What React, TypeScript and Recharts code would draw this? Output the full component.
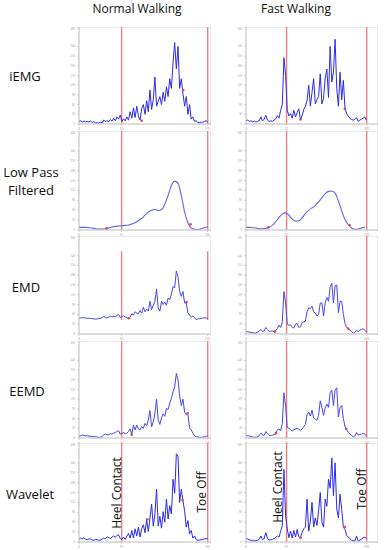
import React from 'react';
import { LineChart, Line, XAxis, YAxis, ReferenceLine, ReferenceArea, ReferenceDot } from 'recharts';

// ---- labels ----
const columnTitles = ['Normal Walking', 'Fast Walking'];
const rowTitles = [['iEMG'], ['Low Pass', 'Filtered'], ['EMD'], ['EEMD'], ['Wavelet']];
const eventLabels = ['Heel Contact', 'Toe Off'];

// ---- gait events (sample units) ----
const normalEvents = [64.6, 195];
const fastEvents = [61.5, 182.9];

// ---- signals ----
const normalIemg = [8,10,6,9,7,8,6,9,5,7, 3,4,3,5,4,12,8,10,7,14, 9,18,10,22,15,28,8,16,10,22, 12,38,18,50,20,55,25,12,48,60, 30,72,38,105,45,75,145,55,70,85, 60,98,70,115,85,140,110,190,252,170, 240,110,140,95,55,85,30,60,15,22, 8,10,5,4,6,5,8,10,7];
const fastIemg = [10,12,8,10,7,9,6,8,10,22, 10,14,27,12,8,10,8,12,16,26, 18,42,60,205,150,42,25,32,18,42, 22,35,47,14,25,45,55,72,120,55, 98,140,62,75,85,155,62,80,142,170, 82,240,130,160,262,110,55,160,75,135, 48,32,24,17,14,12,14,20,8,12, 15,18,22,12];
const normalLowPass = [8,8,8,7,6,4,3,3,4,6, 9,11,12,13,14,15,18,22,28,35, 45,54,60,62,59,62,78,105,135,148, 142,105,55,22,6,2,1,4,7,9];
const fastLowPass = [8,8,7,6,4,4,5,8,14,25, 38,48,52,45,33,27,28,37,50,60, 67,74,85,98,110,117,118,112,88,58, 32,16,6,2,3,6,8];
const normalEmd = [48,49,50,50,49,48,48,48,47,46, 46,46,47,48,50,54,50,49,52,55, 52,54,53,57,60,50,53,56,52,50, 47,52,62,58,68,64,62,72,64,82, 68,76,70,100,75,88,100,138,80,70, 100,90,98,88,110,105,122,145,142,193, 175,130,115,130,95,95,65,58,52,55, 50,44,46,47,48,49,50,49,48];
const fastEmd = [7,7,6,5,4,3,3,6,8,14, 8,9,20,14,8,9,9,8,10,17, 27,20,37,130,95,30,27,28,20,18, 30,32,20,22,35,37,40,68,80,78, 85,68,64,55,60,95,95,55,95,112, 100,145,155,95,148,150,65,100,100,60, 32,20,16,12,7,2,5,12,7,12, 14,16,12,6];
const normalEemd = [5,7,9,8,7,7,6,5,5,4, 4,3,2,2,5,10,12,10,11,13, 12,15,17,20,23,12,14,17,13,15, 20,28,10,40,25,40,28,25,35,30, 45,38,55,85,35,50,75,120,55,42, 62,75,67,92,88,108,122,143,158,200, 180,130,100,120,80,72,75,30,25,15, 7,4,3,2,2,3,3,5,7];
const fastEemd = [8,7,6,5,3,2,2,4,7,15, 10,8,20,14,8,8,9,10,13,25, 28,22,45,140,98,33,30,26,22,25, 28,30,27,24,28,36,42,72,80,68, 86,62,58,55,70,115,95,70,92,105, 95,140,148,100,150,155,65,95,100,60, 35,25,18,13,8,3,6,17,9,11, 12,14,12,5];
const normalWavelet = [9,12,10,13,8,7,10,9,6,5, 8,7,5,6,9,12,10,16,13,11, 15,18,14,20,22,10,8,15,8,18, 26,12,35,12,40,18,45,15,40,52, 28,68,32,72,115,48,85,160,48,78, 42,92,60,130,70,110,85,190,148,267, 260,120,160,125,95,45,65,25,35,12, 18,7,5,6,7,8,9,10,11];
const fastWavelet = [11,9,7,5,5,3,4,5,8,18, 8,10,28,12,6,7,8,10,14,18, 15,33,50,220,80,40,13,33,12,35, 15,38,16,13,30,40,45,130,33,63, 120,45,73,50,95,150,60,45,130,108, 190,163,255,140,240,100,73,145,98,45, 38,20,15,10,5,4,3,18,3,5, 9,13,15,10];

// ---- detected onset markers [x, y] ----
const normalIemgMarks = [[95, 10], [158, 105]];
const fastIemgMarks = [[82.6, 14], [149.6, 47]];
const normalLowPassMarks = [[42, 5], [169, 17]];
const fastLowPassMarks = [[33.8, 8], [157, 15]];
const normalEmdMarks = [[75.8, 48], [163, 98]];
const fastEmdMarks = [[43.8, 8], [154.7, 17]];
const normalEemdMarks = [[79.8, 10], [164.6, 77]];
const fastEemdMarks = [[45.3, 15], [152, 28]];
const normalWaveletMarks = [[103.5, 69], [157, 127]];
const fastWaveletMarks = [[82.6, 13], [149.6, 45]];

const normalEmdEventSpan = [43, 253];

const X_MAX = 200;
const Y_MAX = 300;
const yTicks = [0, 30, 60, 90, 120, 150, 180, 210, 240, 270, 300];

// layout
const COL_LEFT = [79, 246];
const ROW_TOP = [27, 131, 236, 341, 443];
const ROW_H = [97, 99, 98, 97, 99];
const PLOT_W = 132;
const YAX_W = 10;
const XAX_H = 8;

type PanelDef = {
  values: number[];
  step: number;
  events: number[];
  marks: number[][];
  smooth?: boolean;
  span?: number[];
  color: string;
  width: number;
};

const panels: PanelDef[][] = [
  [
    { values: normalIemg, step: 2.5, events: normalEvents, marks: normalIemgMarks, color: '#2a2af0', width: 1 },
    { values: fastIemg, step: 2.5, events: fastEvents, marks: fastIemgMarks, color: '#2a2af0', width: 1 },
  ],
  [
    { values: normalLowPass, step: 5, events: normalEvents, marks: normalLowPassMarks, smooth: true, color: '#6464ec', width: 1.1 },
    { values: fastLowPass, step: 5, events: fastEvents, marks: fastLowPassMarks, smooth: true, color: '#6464ec', width: 1.1 },
  ],
  [
    { values: normalEmd, step: 2.5, events: normalEvents, marks: normalEmdMarks, span: normalEmdEventSpan, color: '#4646ee', width: 1 },
    { values: fastEmd, step: 2.5, events: fastEvents, marks: fastEmdMarks, color: '#4646ee', width: 1 },
  ],
  [
    { values: normalEemd, step: 2.5, events: normalEvents, marks: normalEemdMarks, color: '#4646ee', width: 1 },
    { values: fastEemd, step: 2.5, events: fastEvents, marks: fastEemdMarks, color: '#4646ee', width: 1 },
  ],
  [
    { values: normalWavelet, step: 2.5, events: normalEvents, marks: normalWaveletMarks, color: '#2a2af0', width: 1 },
    { values: fastWavelet, step: 2.5, events: fastEvents, marks: fastWaveletMarks, color: '#2a2af0', width: 1 },
  ],
];

const RED = '#f06868';
const FRAME = '#cdcdcd';

function Panel({ def, left, top, h }: { def: PanelDef; left: number; top: number; h: number }) {
  const data = def.values.map((v, i) => ({ x: i * def.step, y: v }));
  const [heel, toe] = def.events;
  return (
    <div style={{ position: 'absolute', left: left - YAX_W, top }}>
      <LineChart width={PLOT_W + YAX_W} height={h + XAX_H} data={data} margin={{ top: 0, right: 0, bottom: 0, left: 0 }}>
        <XAxis
          type="number"
          dataKey="x"
          domain={[0, X_MAX]}
          ticks={[0, heel, toe]}
          tickFormatter={(v: number) => String(Math.round(v))}
          height={XAX_H}
          tickSize={2}
          tick={{ fontSize: 3.5, fill: '#9a9a9a' }}
          axisLine={{ stroke: FRAME }}
          tickLine={{ stroke: FRAME }}
          allowDataOverflow
        />
        <YAxis
          type="number"
          domain={[0, Y_MAX]}
          ticks={yTicks}
          width={YAX_W}
          tickSize={2}
          tick={{ fontSize: 3, fill: '#a0a0a0' }}
          axisLine={{ stroke: FRAME }}
          tickLine={{ stroke: FRAME }}
          allowDataOverflow
        />
        <ReferenceArea x1={0} x2={X_MAX} y1={0} y2={Y_MAX} fill="none" stroke={FRAME} strokeWidth={0.8} ifOverflow="visible" />
        {def.span ? (
          <>
            <ReferenceLine segment={[{ x: heel, y: def.span[0] }, { x: heel, y: def.span[1] }]} stroke={RED} strokeWidth={1.4} strokeOpacity={0.85} />
            <ReferenceLine segment={[{ x: toe, y: def.span[0] }, { x: toe, y: def.span[1] }]} stroke={RED} strokeWidth={1.4} strokeOpacity={0.85} />
          </>
        ) : (
          <>
            <ReferenceLine x={heel} stroke={RED} strokeWidth={1.4} strokeOpacity={0.85} />
            <ReferenceLine x={toe} stroke={RED} strokeWidth={1.4} strokeOpacity={0.85} />
          </>
        )}
        <Line
          type={def.smooth ? 'monotone' : 'linear'}
          dataKey="y"
          stroke={def.color}
          strokeWidth={def.width}
          dot={false}
          isAnimationActive={false}
        />
        {def.marks.map((m, i) => (
          <ReferenceDot key={i} x={m[0]} y={m[1]} r={1.3} fill="#e04848" stroke="none" />
        ))}
      </LineChart>
    </div>
  );
}

const textStyle: React.CSSProperties = {
  position: 'absolute',
  transform: 'translate(-50%, -50%)',
  whiteSpace: 'nowrap',
  lineHeight: 1,
  color: '#0d0d0d',
  fontFamily: '"Open Sans", sans-serif',
};

const colTitlePos = [[137, 9], [296, 9]];
const rowTitlePos = [[25, 76], [31, 181], [26, 287], [27, 391], [30, 494]];
const heelLabelPos = [[116.7, 492.5], [277.5, 486.5]];
const toeLabelPos = [[201.7, 492], [361.7, 488.5]];

export default function App() {
  return (
    <div style={{ position: 'absolute', left: 0, top: 0, width: 384, height: 550, background: '#fff', overflow: 'hidden' }}>
      {panels.map((row, r) =>
        row.map((def, c) => <Panel key={`${r}-${c}`} def={def} left={COL_LEFT[c]} top={ROW_TOP[r]} h={ROW_H[r]} />)
      )}
      {columnTitles.map((t, i) => (
        <div key={t} style={{ ...textStyle, left: colTitlePos[i][0], top: colTitlePos[i][1], fontSize: 12 }}>{t}</div>
      ))}
      {rowTitles.map((lines, i) => (
        <div key={i} style={{ ...textStyle, left: rowTitlePos[i][0], top: rowTitlePos[i][1], fontSize: 13, textAlign: 'center', lineHeight: '18px' }}>
          {lines.map((l) => (
            <div key={l}>{l}</div>
          ))}
        </div>
      ))}
      {heelLabelPos.map((p, i) => (
        <div key={`h${i}`} style={{ ...textStyle, left: p[0], top: p[1], fontSize: 12, transform: 'translate(-50%, -50%) rotate(-90deg)' }}>{eventLabels[0]}</div>
      ))}
      {toeLabelPos.map((p, i) => (
        <div key={`t${i}`} style={{ ...textStyle, left: p[0], top: p[1], fontSize: 12, transform: 'translate(-50%, -50%) rotate(-90deg)' }}>{eventLabels[1]}</div>
      ))}
    </div>
  );
}
